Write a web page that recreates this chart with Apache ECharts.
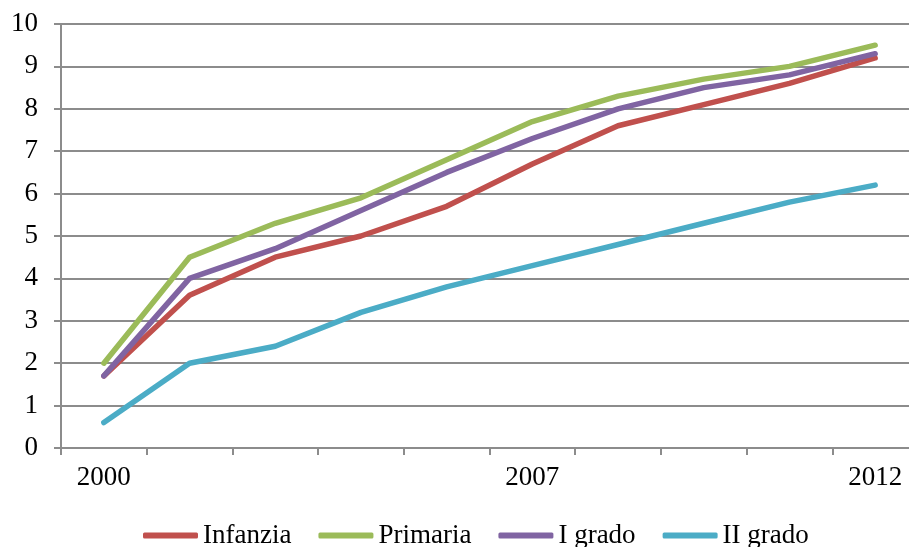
<!DOCTYPE html>
<html>
<head>
<meta charset="utf-8">
<script src="https://cdn.jsdelivr.net/npm/echarts@6/dist/echarts.min.js"></script>
<style>
  html, body { margin: 0; padding: 0; background: #fff; }
  #main { width: 909px; height: 547px; }
</style>
</head>
<body>
<div id="main"></div>
<script>
// etichette asse x (solo alcune visibili)
var categories = ['2000', '', '', '', '', '2007', '', '', '', '2012'];
var seriesNames = ['Infanzia', 'Primaria', 'I grado', 'II grado'];
var infanzia = [1.7, 3.6, 4.5, 5.0, 5.7, 6.7, 7.6, 8.1, 8.6, 9.2];
var primaria = [2.0, 4.5, 5.3, 5.9, 6.8, 7.7, 8.3, 8.7, 9.0, 9.5];
var primoGrado = [1.7, 4.0, 4.7, 5.6, 6.5, 7.3, 8.0, 8.5, 8.8, 9.3];
var secondoGrado = [0.6, 2.0, 2.4, 3.2, 3.8, 4.3, 4.8, 5.3, 5.8, 6.2];
var colors = ['#C0504D', '#9BBB59', '#8064A2', '#4BACC6'];

var font = "'Liberation Serif', 'Times New Roman', serif";
var gray = '#8c8c8c';

function line(name, data, color) {
  return {
    name: name,
    type: 'line',
    data: data,
    showSymbol: false,
    symbol: 'none',
    lineStyle: { width: 5.5, color: color, cap: 'round', join: 'round' },
    itemStyle: { color: color },
    animation: false
  };
}

var chart = echarts.init(document.getElementById('main'));
chart.setOption({
  animation: false,
  textStyle: { fontFamily: font },
  // il riquadro esce un po' dal bordo destro, come nell'originale
  grid: { left: 61, width: 857, top: 24, height: 424, containLabel: false, outerBoundsMode: 'none' },
  legend: {
    left: 143,
    top: 522,
    padding: 0,
    icon: 'roundRect',
    itemWidth: 55,
    itemHeight: 6,
    itemGap: 27,
    textStyle: { fontFamily: font, fontSize: 27, color: '#000' },
    data: seriesNames
  },
  xAxis: {
    type: 'category',
    data: categories,
    boundaryGap: true,
    axisLine: { lineStyle: { color: gray, width: 2 } },
    axisTick: { show: true, length: 7, interval: 0, lineStyle: { color: gray, width: 2 } },
    axisLabel: { interval: 0, margin: 16, fontFamily: font, fontSize: 27, color: '#000' },
    splitLine: { show: false }
  },
  yAxis: {
    type: 'value',
    min: 0,
    max: 10,
    interval: 1,
    axisLine: { show: true, lineStyle: { color: gray, width: 2 } },
    axisTick: { show: true, length: 7, lineStyle: { color: gray, width: 2 } },
    axisLabel: { margin: 23, fontFamily: font, fontSize: 27, color: '#000' },
    splitLine: { show: true, lineStyle: { color: gray, width: 2 } }
  },
  series: [
    line(seriesNames[0], infanzia, colors[0]),
    line(seriesNames[1], primaria, colors[1]),
    line(seriesNames[2], primoGrado, colors[2]),
    line(seriesNames[3], secondoGrado, colors[3])
  ]
});
</script>
</body>
</html>
